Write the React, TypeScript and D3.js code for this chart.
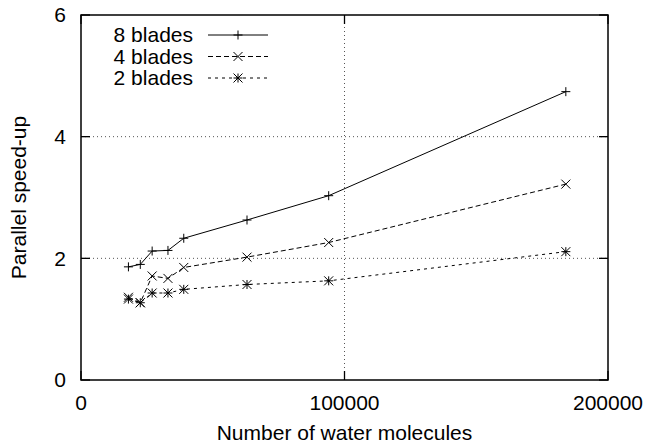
import React from "react";
import * as d3 from "d3";

const molecules = [18000, 22500, 27000, 33000, 39000, 63000, 94000, 184000];
const blades8 = [1.86, 1.9, 2.12, 2.13, 2.33, 2.63, 3.03, 4.74];
const blades4 = [1.36, 1.27, 1.71, 1.67, 1.85, 2.02, 2.26, 3.22];
const blades2 = [1.33, 1.27, 1.43, 1.43, 1.49, 1.57, 1.63, 2.11];
const seriesNames = ["8 blades", "4 blades", "2 blades"];
const xTicks = [0, 100000, 200000];
const yTicks = [0, 2, 4, 6];

const W = 659, H = 443;
const L = 81, R = 608, T = 15, B = 380;
const FONT = "Liberation Sans, Arial, Helvetica, sans-serif";
const FS = 21;

const x = d3.scaleLinear().domain([0, 200000]).range([L, R]);
const y = d3.scaleLinear().domain([0, 6]).range([B, T]);

type Marker = "plus" | "cross" | "star";
const seriesDefs: { values: number[]; dash: string; marker: Marker }[] = [
  { values: blades8, dash: "none", marker: "plus" },
  { values: blades4, dash: "5,3", marker: "cross" },
  { values: blades2, dash: "3,4", marker: "star" },
];

function markerPath(m: Marker, cx: number, cy: number): string {
  const p = 4.5;
  const c = 4.5;
  const plus = `M${cx - p},${cy}H${cx + p}M${cx},${cy - p}V${cy + p}`;
  const cross = `M${cx - c},${cy - c}L${cx + c},${cy + c}M${cx - c},${cy + c}L${cx + c},${cy - c}`;
  if (m === "plus") return plus;
  if (m === "cross") return cross;
  return plus + cross;
}

export default function App() {
  const line = d3
    .line<number>()
    .x((_, i) => x(molecules[i]))
    .y((d) => y(d));
  return (
    <svg
      width={W}
      height={H}
      style={{ position: "absolute", left: 0, top: 0, background: "#fff" }}
      fontFamily={FONT}
    >
      <rect x={0} y={0} width={W} height={H} fill="#fff" />
      {/* grid */}
      {yTicks
        .filter((t) => t > 0 && t < 6)
        .map((t) => (
          <line key={"gy" + t} x1={L} x2={R} y1={y(t)} y2={y(t)} stroke="#555" strokeWidth={1} strokeDasharray="1,3" />
        ))}
      {xTicks
        .filter((t) => t > 0 && t < 200000)
        .map((t) => (
          <line key={"gx" + t} x1={x(t)} x2={x(t)} y1={T} y2={B} stroke="#555" strokeWidth={1} strokeDasharray="1,3" />
        ))}
      {/* ticks */}
      {yTicks.map((t) => (
        <g key={"ty" + t}>
          <line x1={L} x2={L + 9} y1={y(t)} y2={y(t)} stroke="#000" strokeWidth={1.3} />
          <line x1={R} x2={R - 9} y1={y(t)} y2={y(t)} stroke="#000" strokeWidth={1.3} />
          <text x={L - 15} y={y(t)} dy="0.35em" textAnchor="end" fontSize={FS}>
            {t}
          </text>
        </g>
      ))}
      {xTicks.map((t) => (
        <g key={"tx" + t}>
          <line x1={x(t)} x2={x(t)} y1={B} y2={B - 9} stroke="#000" strokeWidth={1.3} />
          <line x1={x(t)} x2={x(t)} y1={T} y2={T + 9} stroke="#000" strokeWidth={1.3} />
          <text x={x(t)} y={403} dy="0.35em" textAnchor="middle" fontSize={FS}>
            {t}
          </text>
        </g>
      ))}
      <rect x={L} y={T} width={R - L} height={B - T} fill="none" stroke="#000" strokeWidth={1.5} />
      {/* series */}
      {seriesDefs.map((s, i) => (
        <g key={"s" + i}>
          <path d={line(s.values) || ""} fill="none" stroke="#000" strokeWidth={1} strokeDasharray={s.dash} />
          {s.values.map((v, j) => (
            <path key={j} d={markerPath(s.marker, x(molecules[j]), y(v))} stroke="#000" strokeWidth={1} fill="none" />
          ))}
        </g>
      ))}
      {/* legend */}
      {seriesDefs.map((s, i) => {
        const ly = 35 + i * 21.5;
        return (
          <g key={"lg" + i}>
            <text x={193} y={ly} dy="0.35em" textAnchor="end" fontSize={FS}>
              {seriesNames[i]}
            </text>
            <line x1={208} x2={268} y1={ly} y2={ly} stroke="#000" strokeWidth={1} strokeDasharray={s.dash} />
            <path d={markerPath(s.marker, 238, ly)} stroke="#000" strokeWidth={1} fill="none" />
          </g>
        );
      })}
      {/* axis titles */}
      <text x={(L + R) / 2} y={433} dy="0.35em" textAnchor="middle" fontSize={FS}>
        Number of water molecules
      </text>
      <text transform={`translate(19,${(T + B) / 2}) rotate(-90)`} textAnchor="middle" dy="0.35em" fontSize={FS}>
        Parallel speed-up
      </text>
    </svg>
  );
}
